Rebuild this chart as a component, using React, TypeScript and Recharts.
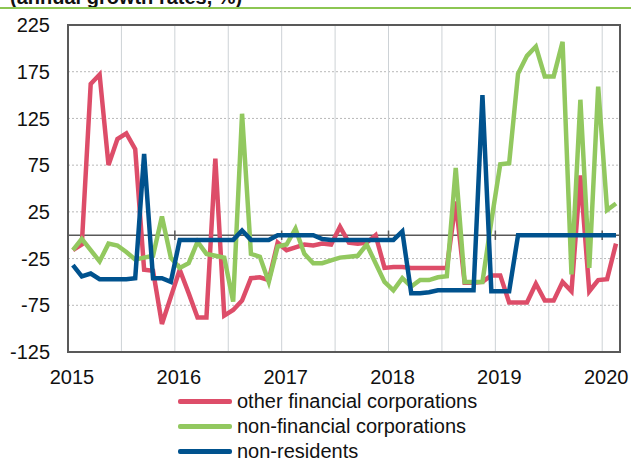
import React from 'react'
import {
  LineChart,
  Line,
  XAxis,
  YAxis,
  CartesianGrid,
  ReferenceLine,
  ReferenceArea,
} from 'recharts'

// monthly observations, Jan 2015 - Feb 2020
const otherFinancial = [
  -16, -10, 162, 172, 75, 103, 109, 92, -37, -38, -95, -66,
  -37, -62, -88, -88, 82, -86, -80, -70, -46, -45, -48, -8,
  -16, -13, -10, -11, -9, -10, 9, -8, -9, -8, 0, -35,
  -34, -34, -35, -35, -35, -35, -35, 36, -51, -51, -50, -43,
  -43, -72, -72, -72, -52, -70, -70, -50, -60, 64, -60, -48,
  -47, -9,
]
const nonFinancial = [
  -16, -4, -16, -28, -9, -11, -18, -26, -24, -22, 20, -24,
  -35, -30, -7, -20, -22, -24, -71, 130, -20, -23, -50, -12,
  -10, 7, -20, -30, -30, -27, -24, -23, -22, -10, -30, -50,
  -59, -46, -55, -48, -48, -45, -44, 72, -50, -50, -50, 15,
  76, 77, 173, 192, 202, 170, 170, 207, -42, 145, -35, 159,
  27, 34,
]
const nonResidents = [
  -32, -44, -41, -47, -47, -47, -47, -46, 87, -46, -46, -50,
  -5, -5, -5, -5, -5, -5, -5, 5, -5, -5, -5, 0,
  0, 0, 0, 0, -4, -5, -5, -5, -5, -5, -5, -5,
  -5, 4, -62, -62, -61, -59, -59, -59, -59, -59, 150, -60,
  -60, -60, 0, 0, 0, 0, 0, 0, 0, 0, 0, 0,
  0, 0,
]

const years = ['2015', '2016', '2017', '2018', '2019', '2020']
const xTicks = [0, 6, 12, 18, 24, 30, 36, 42, 48, 54, 60]
const yearTicks = [12, 24, 36, 48, 60]
const yTicks = [-125, -75, -25, 25, 75, 125, 175, 225]

const series = [
  { key: 'ofc', name: 'other financial corporations', color: '#dd4d69' },
  { key: 'nfc', name: 'non-financial corporations', color: '#92c85f' },
  { key: 'nr', name: 'non-residents', color: '#00528e' },
]

const data = otherFinancial.map((v, i) => ({
  t: i + 0.55,
  ofc: v,
  nfc: nonFinancial[i],
  nr: nonResidents[i],
}))

const font = 'Arial, "Liberation Sans", sans-serif'

export default function App() {
  return (
    <div
      style={{
        position: 'absolute',
        left: 0,
        top: 0,
        width: 631,
        height: 459,
        overflow: 'hidden',
        background: '#fff',
        fontFamily: font,
      }}
    >
      <div
        style={{
          position: 'absolute',
          left: 10,
          top: -13,
          fontSize: 20,
          lineHeight: '20px',
          fontWeight: 'bold',
          color: '#111',
          whiteSpace: 'nowrap',
        }}
      >
        (annual growth rates, %)
      </div>
      <div
        style={{
          position: 'absolute',
          left: 0,
          top: 7,
          width: 631,
          height: 2,
          background: '#8cc652',
        }}
      />
      <LineChart
        width={631}
        height={459}
        data={data}
        margin={{ top: 25, right: 11, bottom: 77, left: 0 }}
      >
        <CartesianGrid
          vertical={false}
          stroke='#b8b8b8'
          strokeDasharray='2 2'
        />
        <CartesianGrid horizontal={false} stroke='#cdd2d6' />
        <XAxis
          dataKey='t'
          type='number'
          domain={[0, 62]}
          ticks={xTicks}
          interval={0}
          tickFormatter={(v: number) => (v % 12 === 0 ? years[v / 12] : '')}
          axisLine={false}
          tickLine={false}
          tickSize={0}
          tickMargin={18}
          height={30}
          dx={4}
          tick={{ fontSize: 20, fill: '#111', fontFamily: font }}
        />
        <YAxis
          type='number'
          domain={[-125, 225]}
          ticks={yTicks}
          interval={0}
          axisLine={false}
          tickLine={false}
          tickSize={0}
          tickMargin={18}
          width={68}
          tick={{ fontSize: 20, fill: '#111', fontFamily: font }}
        />
        <ReferenceLine y={0} stroke='#595959' strokeWidth={1.5} zIndex={-10} />
        {yearTicks.map((m) => (
          <ReferenceLine
            key={m}
            segment={[
              { x: m, y: -5 },
              { x: m, y: 5 },
            ]}
            stroke='#595959'
            strokeWidth={1.5}
            zIndex={-10}
          />
        ))}
        <ReferenceArea
          x1={0}
          x2={62}
          y1={-125}
          y2={225}
          fill='none'
          stroke='#595959'
          strokeWidth={2}
        />
        {series.map((s) => (
          <Line
            key={s.key}
            type='linear'
            dataKey={s.key}
            name={s.name}
            stroke={s.color}
            strokeWidth={4.5}
            dot={false}
            activeDot={false}
            isAnimationActive={false}
          />
        ))}
      </LineChart>
      <div style={{ position: 'absolute', left: 178, top: 389 }}>
        {series.map((s) => (
          <div
            key={s.key}
            style={{ display: 'flex', alignItems: 'center', height: 25 }}
          >
            <div
              style={{
                width: 54,
                height: 5,
                borderRadius: 2,
                background: s.color,
                marginRight: 5,
              }}
            />
            <span style={{ fontSize: 20, lineHeight: '25px', color: '#111' }}>
              {s.name}
            </span>
          </div>
        ))}
      </div>
    </div>
  )
}
